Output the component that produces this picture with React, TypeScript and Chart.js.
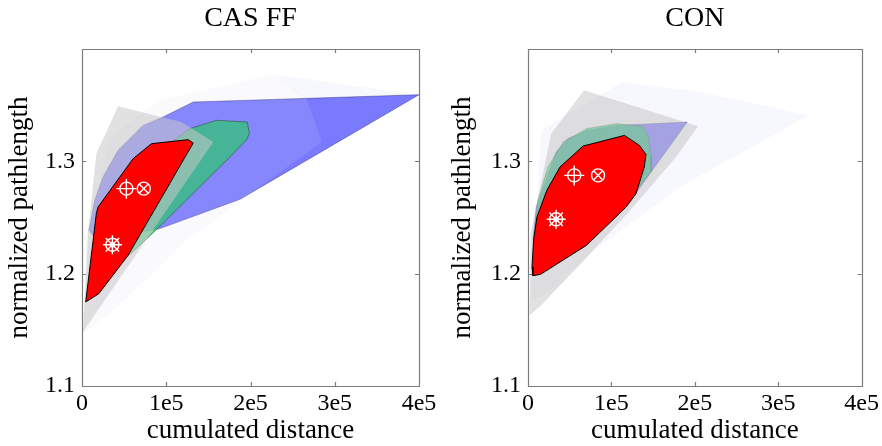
import React, { useEffect, useRef } from 'react';
import { Chart, registerables } from 'chart.js';

Chart.register(...registerables);

type Pt = [number, number];

const SERIF = "'Liberation Serif', 'Times New Roman', Times, serif";
Chart.defaults.font.family = SERIF;
Chart.defaults.color = '#000';

// Axes
const xTickValues = [0, 1e5, 2e5, 3e5, 4e5];
const xTickLabels = ['0', '1e5', '2e5', '3e5', '4e5'];
const yTickValues = [1.1, 1.2, 1.3];
const yTickLabels = ['1.1', '1.2', '1.3'];
const xRange: Pt = [0, 4e5];
const yRange: Pt = [1.1, 1.4];
const xAxisTitle = 'cumulated distance';
const yAxisTitle = 'normalized pathlength';
const panelTitles = ['CAS FF', 'CON'];

// CAS FF hulls (cumulated distance, normalized pathlength)
const casFaintTop: Pt[] = [[2.271e5, 1.3774], [4e5, 1.3593], [2.668e5, 1.354]];
const casFaint: Pt[] = [
  [1.2e3, 1.1466], [5.9e3, 1.2386], [3.29e4, 1.3217], [9.24e4, 1.3543], [2.271e5, 1.3774],
  [2.668e5, 1.3558], [2.846e5, 1.3172], [1.241e5, 1.2297], [3.29e4, 1.1644],
];
const casBlue: Pt[] = [
  [8.3e3, 1.2386], [1.51e4, 1.2653], [2.5e4, 1.2861], [4.28e4, 1.3098], [7.25e4, 1.332],
  [9.63e4, 1.3395], [1.32e5, 1.3528], [4e5, 1.3593], [1.875e5, 1.2662], [9.24e4, 1.2401], [1.7e4, 1.2297],
];
const casGreen: Pt[] = [
  [5.27e4, 1.2142], [8.84e4, 1.2392], [1.756e5, 1.3039], [1.954e5, 1.3193], [1.986e5, 1.3246],
  [1.962e5, 1.335], [1.598e5, 1.3365], [1.28e5, 1.3291], [8.84e4, 1.3068], [5.67e4, 1.2653],
];
const casGray: Pt[] = [
  [1.2e3, 1.1481], [7.1e3, 1.2356], [1.7e4, 1.3068], [4.28e4, 1.349], [1.181e5, 1.335], [1.558e5, 1.3172],
];
const casRed: Pt[] = [
  [4.4e3, 1.1748], [2.0e4, 1.1822], [5.47e4, 1.2163], [1.32e5, 1.3163], [1.26e5, 1.3193],
  [8.25e4, 1.3157], [6.07e4, 1.3024], [1.9e4, 1.2593], [1.7e4, 1.2534],
];
const casCrosshair: Pt[] = [[5.27e4, 1.2757]];
const casCircleX: Pt[] = [[7.33e4, 1.2757]];
const casWheel: Pt[] = [[3.61e4, 1.2258]];

// CON hulls
const conFaint: Pt[] = [
  [4e3, 1.1763], [1.58e4, 1.3276], [1.129e5, 1.3706], [2.06e5, 1.3617], [3.366e5, 1.341],
  [1.822e5, 1.2772], [7.92e4, 1.2208], [2.77e4, 1.1852],
];
const conBlue: Pt[] = [
  [5.9e3, 1.2297], [9.9e3, 1.2593], [3.37e4, 1.3083], [4.75e4, 1.3202], [7.13e4, 1.3276], [1.069e5, 1.332],
  [1.909e5, 1.335], [1.505e5, 1.2935], [1.188e5, 1.2608], [7.33e4, 1.232], [1.58e4, 1.2089],
];
const conGreen: Pt[] = [
  [7.1e3, 1.2356], [1.19e4, 1.2653], [2.38e4, 1.295], [4.24e4, 1.3172], [7.01e4, 1.3291], [1.057e5, 1.3335],
  [1.374e5, 1.3312], [1.446e5, 1.3217], [1.477e5, 1.3039], [1.477e5, 1.2905], [1.426e5, 1.2861],
  [1.188e5, 1.2623], [7.13e4, 1.2297], [1.58e4, 1.2059],
];
const conGray: Pt[] = [
  [2e3, 1.1629], [3.2e3, 1.2356], [2.77e4, 1.3246], [6.73e4, 1.3632], [2.04e5, 1.3312],
  [1.743e5, 1.3009], [1.188e5, 1.2534], [6.34e4, 1.2089], [1.58e4, 1.1718],
];
const conRed: Pt[] = [
  [5.9e3, 1.1982], [1.5e4, 1.1994], [7.01e4, 1.2252], [1.176e5, 1.2593], [1.295e5, 1.2712], [1.394e5, 1.295],
  [1.414e5, 1.3062], [1.335e5, 1.3142], [1.156e5, 1.3231], [6.61e4, 1.3136], [3.84e4, 1.295],
  [2.26e4, 1.2742], [1.07e4, 1.2504], [6.7e3, 1.2297], [4.8e3, 1.2059],
];
const conCrosshair: Pt[] = [[5.54e4, 1.2875]];
const conCircleX: Pt[] = [[8.4e4, 1.2875]];
const conWheel: Pt[] = [[3.37e4, 1.2484]];

const FAINT = 'rgba(225,225,250,0.28)';
const FAINT_OVER = 'rgba(215,215,240,0.12)';
const BLUE = 'rgba(0,0,255,0.52)';
const GREEN = 'rgba(20,200,90,0.7)';
const GRAY = 'rgba(200,200,200,0.55)';
const RED = '#ff0000';

const toXY = (pts: Pt[]) => pts.map(([x, y]) => ({ x, y }));

const hull = (pts: Pt[], fill: string, edge = 'rgba(0,0,0,0)', edgeWidth = 0) => ({
  data: toXY([...pts, pts[0]]),
  showLine: true,
  fill: 'shape',
  backgroundColor: fill,
  borderColor: edge,
  borderWidth: edgeWidth,
  borderJoinStyle: 'round',
  pointRadius: 0,
  pointHoverRadius: 0,
  tension: 0,
});

const marker = (pts: Pt[], style: string, radius: number) => ({
  data: toXY(pts),
  showLine: false,
  pointStyle: style,
  pointRadius: radius,
  pointHoverRadius: radius,
  pointBorderColor: '#ffffff',
  pointBackgroundColor: 'rgba(0,0,0,0)',
  pointBorderWidth: 1.4,
});

const markerSet = (crosshair: Pt[], circleX: Pt[], wheel: Pt[]) => [
  marker(crosshair, 'circle', 6.5),
  marker(crosshair, 'cross', 10),
  marker(circleX, 'circle', 6.5),
  marker(circleX, 'crossRot', 6.5),
  marker(wheel, 'circle', 6.5),
  marker(wheel, 'star', 9.5),
  marker(wheel, 'circle', 2),
];

// frame around the plot area with inward ticks on all four sides
const boxPlugin = {
  id: 'axesBox',
  afterDatasetsDraw(chart: any) {
    const { ctx, chartArea } = chart;
    const { left, right, top, bottom } = chartArea;
    const xs = chart.scales.x;
    const ys = chart.scales.y;
    const tick = 4;
    ctx.save();
    ctx.strokeStyle = '#7c7c7c';
    ctx.lineWidth = 1.2;
    ctx.beginPath();
    ctx.rect(Math.round(left) + 0.5, Math.round(top) + 0.5, Math.round(right - left), Math.round(bottom - top));
    xTickValues.forEach((v) => {
      const px = Math.round(xs.getPixelForValue(v)) + 0.5;
      ctx.moveTo(px, bottom);
      ctx.lineTo(px, bottom - tick);
      ctx.moveTo(px, top);
      ctx.lineTo(px, top + tick);
    });
    yTickValues.forEach((v) => {
      const py = Math.round(ys.getPixelForValue(v)) + 0.5;
      ctx.moveTo(left, py);
      ctx.lineTo(left + tick, py);
      ctx.moveTo(right, py);
      ctx.lineTo(right - tick, py);
    });
    ctx.stroke();
    ctx.restore();
  },
};

interface Panel {
  title: string;
  layers: any[];
  axisWidth: number;
  rightPad: number;
  yTitlePad: number;
}

const buildConfig = (p: Panel): any => {
  const datasets = p.layers.map((d, i) => ({ ...d, order: p.layers.length - i }));
  return {
    type: 'scatter',
    data: { datasets },
    plugins: [boxPlugin],
    options: {
      responsive: false,
      animation: false,
      events: [],
      layout: { padding: { left: 0, right: p.rightPad, top: 0, bottom: 0 } },
      plugins: {
        legend: { display: false },
        tooltip: { enabled: false },
        title: {
          display: true,
          text: p.title,
          fullSize: false,
          color: '#000',
          font: { family: SERIF, size: 28, weight: 'normal', lineHeight: 1.2 },
          padding: { top: 2, bottom: 13.4 },
        },
      },
      scales: {
        x: {
          type: 'linear',
          min: xRange[0],
          max: xRange[1],
          afterBuildTicks: (s: any) => {
            s.ticks = xTickValues.map((value) => ({ value }));
          },
          afterFit: (s: any) => {
            s.height = 60;
          },
          grid: { display: false, drawTicks: false },
          border: { display: false },
          ticks: {
            autoSkip: false,
            maxRotation: 0,
            padding: 3,
            color: '#000',
            font: { family: SERIF, size: 24 },
            callback: (_v: any, i: number) => xTickLabels[i],
          },
          title: {
            display: true,
            text: xAxisTitle,
            color: '#000',
            font: { family: SERIF, size: 27, lineHeight: 1.1 },
            padding: { top: 0, bottom: 0 },
          },
        },
        y: {
          type: 'linear',
          min: yRange[0],
          max: yRange[1],
          afterBuildTicks: (s: any) => {
            s.ticks = yTickValues.map((value) => ({ value }));
          },
          afterFit: (s: any) => {
            s.width = p.axisWidth;
          },
          grid: { display: false, drawTicks: false },
          border: { display: false },
          ticks: {
            autoSkip: false,
            padding: 7,
            color: '#000',
            font: { family: SERIF, size: 24 },
            callback: (_v: any, i: number) => yTickLabels[i],
          },
          title: {
            display: true,
            text: yAxisTitle,
            color: '#000',
            font: { family: SERIF, size: 27, lineHeight: 1.1 },
            padding: { top: p.yTitlePad, bottom: 0 },
          },
        },
      },
    },
  };
};

const casPanel: Panel = {
  title: panelTitles[0],
  axisWidth: 82,
  rightPad: 22,
  yTitlePad: 5.5,
  layers: [
    hull(casFaintTop, FAINT),
    hull(casBlue, BLUE, 'rgba(40,40,110,0.55)', 0.8),
    hull(casGreen, GREEN, 'rgba(20,60,35,0.75)', 0.8),
    hull(casFaint, FAINT_OVER),
    hull(casGray, GRAY),
    hull(casRed, RED, '#000000', 1),
    ...markerSet(casCrosshair, casCircleX, casWheel),
  ],
};

const conPanel: Panel = {
  title: panelTitles[1],
  axisWidth: 87,
  rightPad: 18,
  yTitlePad: 7,
  layers: [
    hull(conFaint, FAINT),
    hull(conBlue, BLUE, 'rgba(40,40,110,0.5)', 0.7),
    hull(conGreen, GREEN, 'rgba(20,60,35,0.5)', 0.7),
    hull(conGray, GRAY),
    hull(conRed, RED, '#000000', 1),
    ...markerSet(conCrosshair, conCircleX, conWheel),
  ],
};

export default function App() {
  const leftRef = useRef<HTMLCanvasElement>(null);
  const rightRef = useRef<HTMLCanvasElement>(null);

  useEffect(() => {
    const charts: Chart[] = [];
    if (leftRef.current) charts.push(new Chart(leftRef.current, buildConfig(casPanel)));
    if (rightRef.current) charts.push(new Chart(rightRef.current, buildConfig(conPanel)));
    return () => charts.forEach((c) => c.destroy());
  }, []);

  return (
    <div style={{ position: 'fixed', left: 0, top: 0, width: 882, height: 446, background: '#fff', overflow: 'hidden' }}>
      <canvas ref={leftRef} width={441} height={446} style={{ position: 'absolute', left: 0, top: 0, width: 441, height: 446 }} />
      <canvas ref={rightRef} width={441} height={446} style={{ position: 'absolute', left: 441, top: 0, width: 441, height: 446 }} />
    </div>
  );
}
